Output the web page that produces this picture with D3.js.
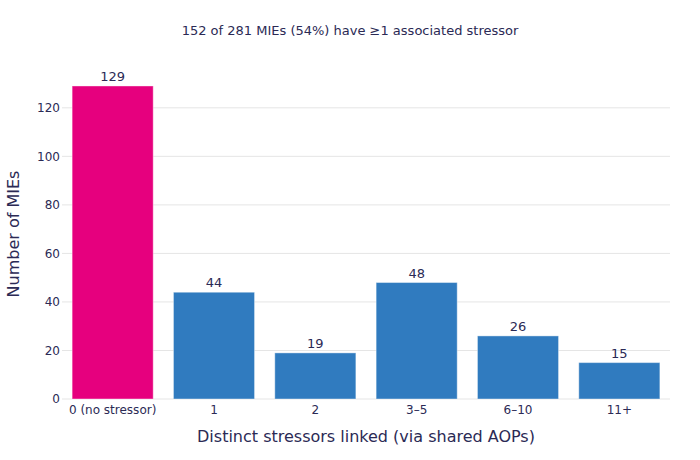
<!DOCTYPE html>
<html>
<head>
<meta charset="utf-8">
<script src="https://cdn.jsdelivr.net/npm/d3@7"></script>
<style>
  body { margin: 0; background: #fff; }
  svg { font-family: "DejaVu Sans", sans-serif; }
</style>
</head>
<body>
<div id="chart"></div>
<script>
// Data
const categories = ["0 (no stressor)", "1", "2", "3\u20135", "6\u201310", "11+"];
const counts = [129, 44, 19, 48, 26, 15];
const yTicks = [0, 20, 40, 60, 80, 100, 120];
const barColors = ["#e6007e", "#307bbf", "#307bbf", "#307bbf", "#307bbf", "#307bbf"];

const width = 700, height = 460;
const margin = { top: 69, right: 30, bottom: 61, left: 62 };
const textColor = "#2b2a55";

const svg = d3.select("#chart")
    .append("svg")
    .attr("width", width)
    .attr("height", height);

// plotly-like band: inner gap 0.2, half of that on the outside
const x = d3.scaleBand()
    .domain(categories)
    .range([margin.left, width - margin.right])
    .paddingInner(0.2)
    .paddingOuter(0.1);

const y = d3.scaleLinear()
    .domain([0, 136])
    .range([height - margin.bottom, margin.top]);

// gridlines
svg.append("g")
    .selectAll("line")
    .data(yTicks)
    .enter()
    .append("line")
    .attr("x1", margin.left)
    .attr("x2", width - margin.right)
    .attr("y1", (d) => y(d))
    .attr("y2", (d) => y(d))
    .attr("stroke", "#e5e5e5")
    .attr("stroke-width", 1);

// y tick labels
svg.append("g")
    .selectAll("text")
    .data(yTicks)
    .enter()
    .append("text")
    .attr("x", margin.left - 2)
    .attr("y", (d) => y(d))
    .attr("dy", "0.35em")
    .attr("text-anchor", "end")
    .attr("font-size", 12)
    .attr("fill", textColor)
    .text((d) => d);

// bars
svg.append("g")
    .selectAll("rect")
    .data(counts)
    .enter()
    .append("rect")
    .attr("x", (d, i) => x(categories[i]))
    .attr("y", (d) => y(d))
    .attr("width", x.bandwidth())
    .attr("height", (d) => y(0) - y(d))
    .attr("fill", (d, i) => barColors[i])
    .attr("stroke", "rgba(255,255,255,0.4)")
    .attr("stroke-width", 1);

// value labels
svg.append("g")
    .selectAll("text")
    .data(counts)
    .enter()
    .append("text")
    .attr("x", (d, i) => x(categories[i]) + x.bandwidth() / 2)
    .attr("y", (d) => y(d) - 5)
    .attr("text-anchor", "middle")
    .attr("font-size", 13)
    .attr("fill", textColor)
    .text((d) => d);

// x tick labels
svg.append("g")
    .selectAll("text")
    .data(categories)
    .enter()
    .append("text")
    .attr("x", (d) => x(d) + x.bandwidth() / 2)
    .attr("y", y(0) + 15)
    .attr("text-anchor", "middle")
    .attr("font-size", 12)
    .attr("fill", textColor)
    .text((d) => d);

// title
svg.append("text")
    .attr("x", width / 2)
    .attr("y", 35)
    .attr("text-anchor", "middle")
    .attr("font-size", 13)
    .attr("fill", textColor)
    .text("152 of 281 MIEs (54%) have \u22651 associated stressor");

// axis titles
svg.append("text")
    .attr("x", (margin.left + width - margin.right) / 2)
    .attr("y", 442)
    .attr("text-anchor", "middle")
    .attr("font-size", 16)
    .attr("fill", textColor)
    .text("Distinct stressors linked (via shared AOPs)");

svg.append("text")
    .attr("transform", "translate(19," + ((margin.top + height - margin.bottom) / 2) + ") rotate(-90)")
    .attr("text-anchor", "middle")
    .attr("font-size", 16)
    .attr("fill", textColor)
    .text("Number of MIEs");
</script>
</body>
</html>
